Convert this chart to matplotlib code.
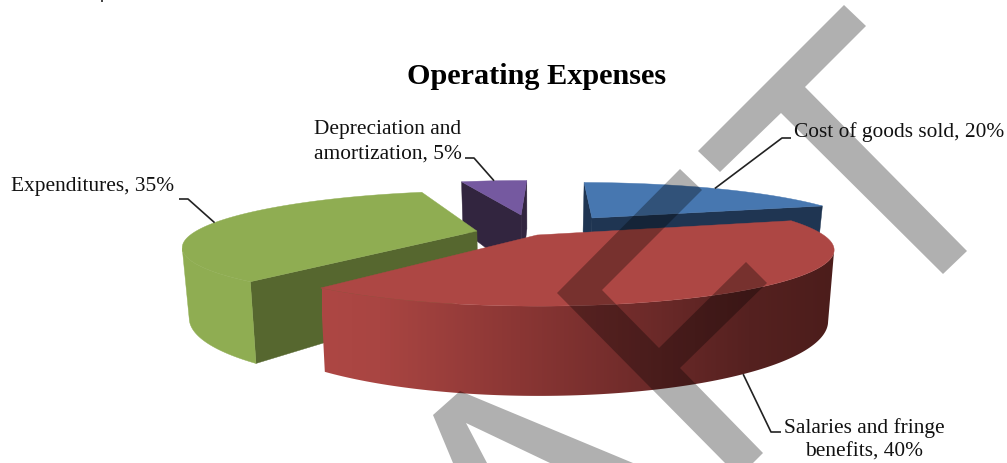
import numpy as np
import matplotlib
matplotlib.use('Agg')
import matplotlib.pyplot as plt
from matplotlib.colors import LinearSegmentedColormap
from matplotlib.patches import Polygon

# data
categories = ['Cost of goods sold', 'Salaries and fringe\nbenefits', 'Expenditures', 'Depreciation and\namortization']
values = [20, 40, 35, 5]

top_colors = ['#4777b0', '#ad4744', '#8fad52', '#7559a0']
cut_colors = ['#1f3552', '#4a1c1a', '#56672f', '#32253f']

# camera for the 3d look: horizon at HY, vanishing point at VX
VX, HY = 532.0, 34.0
F, B = 1096.0, 200.0
HEIGHT_RATIO = 1.33
BOTTOM_SHRINK = 0.98
RADIUS = 0.26
CENTER = (0.0, 1.04)
START_ANGLE = 1.0
# how far each slice is pulled out of the pie
explode = [(0.0595, 0.047), (0.0046, -0.045), (-0.051, -0.025), (-0.011, 0.065)]

# label text position and elbow of the leader line
label_pos = [(899, 132), (864, 440), (93, 187), (387.5, 142)]
label_elbow = [[(782, 138), (791, 138)], [(771, 432), (781, 432)],
               [(188, 199), (179, 199)], [(474, 158), (465, 158)]]
leader_on_bottom = [False, True, False, False]

# draft watermark, black at low alpha darkens like a multiply
watermark = [
    [(844, 5), (866, 26), (805, 87), (967, 251), (943, 274), (781, 113), (720, 172), (698, 151)],
    [(680, 169), (702, 190), (602, 290), (659, 348), (746, 262), (767, 283), (680, 368),
     (763, 453), (753, 463), (725, 463), (557, 293)],
    [(460, 391), (633, 463), (550, 463), (466, 423), (487, 463), (453, 463), (433, 415)],
]

# shading of the red outer wall from left to right
red_wall_x = (322, 835)
red_wall_stops = [(0.0, '#ad4744'), (0.113, '#a94542'), (0.386, '#8a3634'),
                  (0.62, '#6f2b2a'), (0.834, '#552120'), (1.0, '#4c1d1b')]


def project(gx, w, bottom=False):
    x = VX + F * gx / w
    y = HY + B / w
    if bottom:
        x = VX + (x - VX) * BOTTOM_SHRINK
        y = HY + (y - HY) * HEIGHT_RATIO
    return x, y


plt.rcParams['font.family'] = 'Liberation Serif'

fig = plt.figure(figsize=(10.07, 4.63), dpi=100)
ax = fig.add_axes([0, 0, 1, 1])

# work out the slice angles (clockwise from the back of the pie)
angles = START_ANGLE + 360 * np.cumsum([0] + values) / sum(values)
apexes = [(CENTER[0] + e[0], CENTER[1] + e[1]) for e in explode]
red_cmap = LinearSegmentedColormap.from_list('red_wall', red_wall_stops)

# back slices first, red sits in front of everything
draw_order = [3, 0, 2, 1]
for z, i in enumerate(draw_order):
    a0, a1 = angles[i], angles[i + 1]
    agx, aw = apexes[i]
    theta = np.radians(np.linspace(a0, a1, int(a1 - a0) + 2))
    rim_gx = agx + RADIUS * np.sin(theta)
    rim_w = aw + RADIUS * np.cos(theta)

    # cut faces, only the ones that look at the camera
    for t, sign in [(np.radians(a0), 1), (np.radians(a1), -1)]:
        n = (-np.cos(t) * sign, np.sin(t) * sign)
        if agx * n[0] + aw * n[1] < 0:
            e_gx = agx + RADIUS * np.sin(t)
            e_w = aw + RADIUS * np.cos(t)
            pts = [project(agx, aw), project(e_gx, e_w),
                   project(e_gx, e_w, True), project(agx, aw, True)]
            ax.fill(*zip(*pts), color=cut_colors[i], lw=0.3, zorder=z * 10 + 1)

    # outer wall, only the part facing the camera
    facing = rim_gx * np.sin(theta) + rim_w * np.cos(theta) < 0
    if facing.any():
        upper = [project(g, w) for g, w in zip(rim_gx[facing], rim_w[facing])]
        lower = [project(g, w, True) for g, w in zip(rim_gx[facing], rim_w[facing])]
        wall = upper + lower[::-1]
        if i == 1:
            patch = Polygon(wall, closed=True, transform=ax.transData, facecolor='none', edgecolor='none')
            ax.add_patch(patch)
            img = ax.imshow(np.linspace(0, 1, 256).reshape(1, -1), cmap=red_cmap, aspect='auto',
                            extent=(red_wall_x[0], red_wall_x[1], 463, 0), zorder=z * 10 + 2)
            img.set_clip_path(patch)
        else:
            ax.fill(*zip(*wall), color=top_colors[i], lw=0.3, zorder=z * 10 + 2)

    # top surface
    top = [project(agx, aw)] + [project(g, w) for g, w in zip(rim_gx, rim_w)]
    ax.fill(*zip(*top), color=top_colors[i], lw=0.3, zorder=z * 10 + 3)

for shape in watermark:
    ax.fill(*zip(*shape), color='black', alpha=0.31, lw=0, zorder=60)

# labels and leader lines
for i, cat in enumerate(categories):
    mid = np.radians((angles[i] + angles[i + 1]) / 2)
    start = project(apexes[i][0] + RADIUS * np.sin(mid), apexes[i][1] + RADIUS * np.cos(mid), leader_on_bottom[i])
    line = [start] + label_elbow[i]
    ax.plot(*zip(*line), color='#222222', lw=1.2, zorder=70, solid_capstyle='butt')
    ax.text(label_pos[i][0], label_pos[i][1], f'{cat}, {values[i]}%', ha='center', va='center',
            multialignment='center', fontsize=15.4, linespacing=1.37, color='#111111', zorder=80)

ax.text(537, 76, 'Operating Expenses', ha='center', va='center', fontsize=21.8, fontweight='bold',
        color='black', zorder=80)

# speck of something cut off at the top edge
ax.plot([101.5, 101.5], [0, 2], color='#222222', lw=1.2, zorder=80, solid_capstyle='butt')

ax.set_xlim(0, 1007)
ax.set_ylim(463, 0)
ax.axis('off')

plt.savefig('out.png', dpi=100)
